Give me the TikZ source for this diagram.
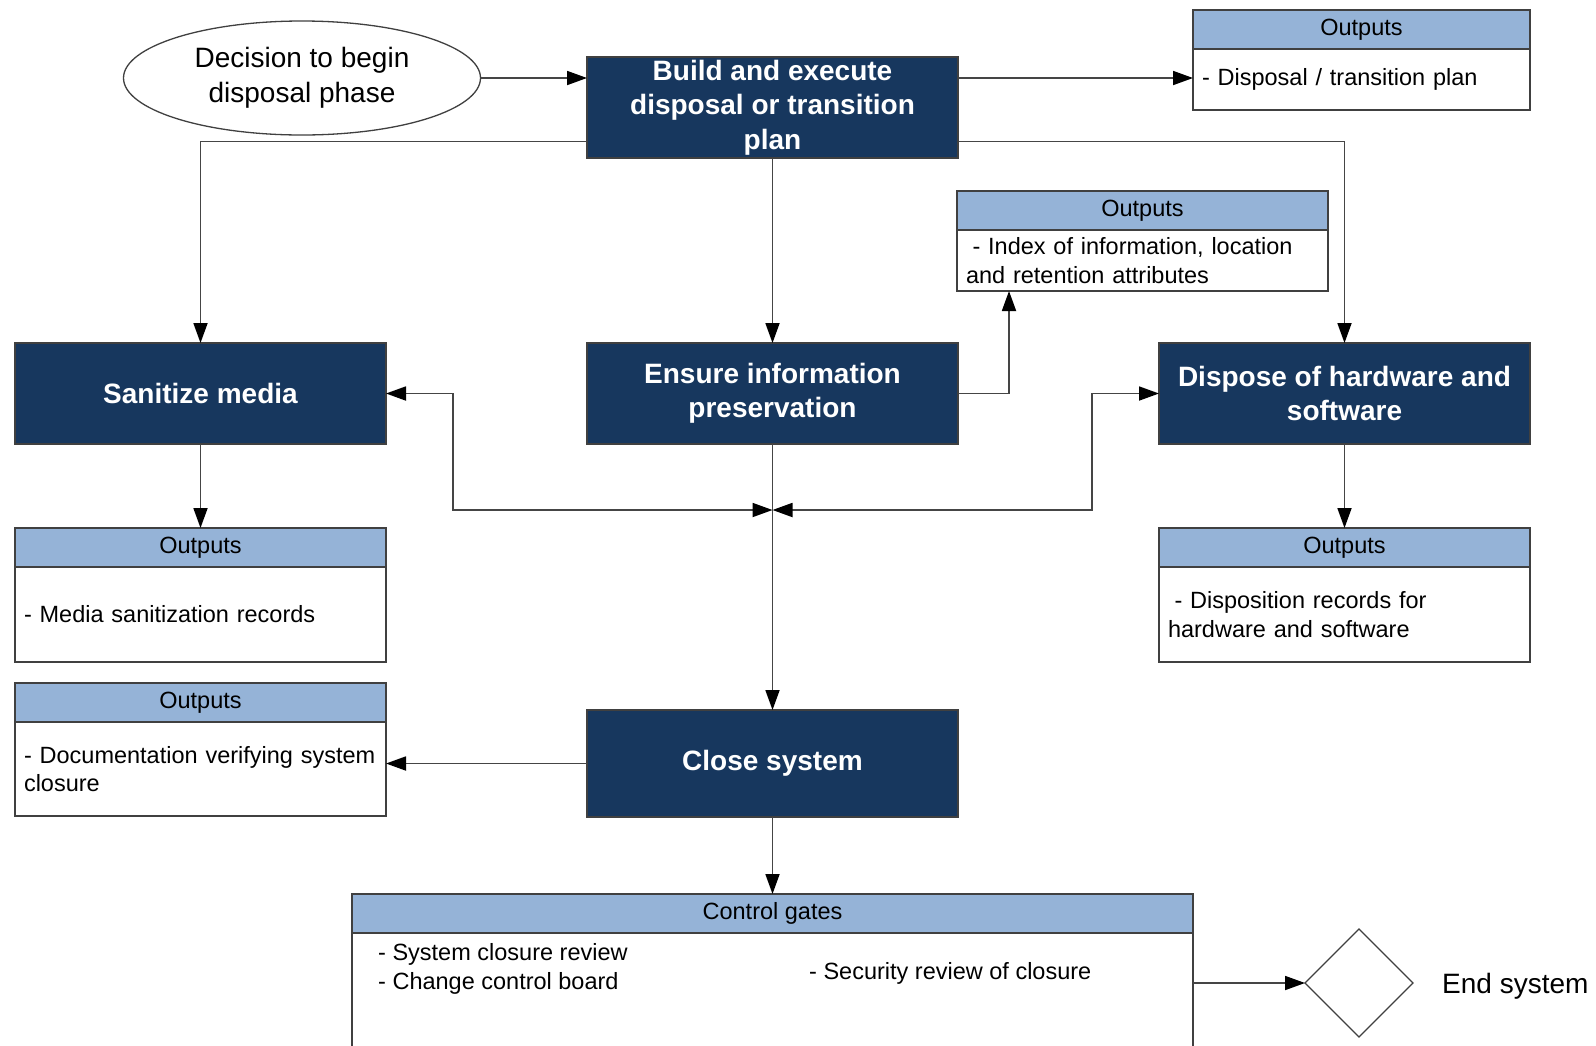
\documentclass[tikz,border=0pt]{standalone}
\usepackage{fontspec}
\setmainfont{Liberation Sans}
\usetikzlibrary{arrows.meta,shapes.geometric,calc}
\definecolor{navy}{HTML}{17375E}
\definecolor{hdrblue}{HTML}{95B3D7}
\definecolor{edge}{HTML}{404040}
\definecolor{wire}{HTML}{454545}
\begin{document}
\begin{tikzpicture}[x=1pt,y=-1pt,
  proc/.style={rectangle,draw=edge,line width=1.5pt,fill=navy,text=white,
    font=\fontsize{28}{34.5}\selectfont\bfseries,align=center,
    minimum width=371pt,minimum height=101pt,inner sep=0pt,outer sep=0pt},
  ohead/.style={rectangle,draw=edge,line width=1.5pt,fill=hdrblue,
    font=\fontsize{23.5}{28.5}\selectfont,minimum height=39pt,inner sep=0pt,outer sep=0pt,anchor=north west},
  obody/.style={rectangle,draw=edge,line width=1.5pt,fill=white,
    font=\fontsize{23.5}{28.5}\selectfont,align=left,inner xsep=9pt,inner ysep=0pt,outer sep=0pt,anchor=north},
  plain/.style={font=\fontsize{23.5}{28.5}\selectfont,align=left,inner sep=0pt,anchor=west},
  wire/.style={draw=wire,line width=1.8pt},
  arr/.style={wire,-{Triangle[length=20pt,width=14pt,color=black]}},
  biarr/.style={wire,{Triangle[length=20pt,width=14pt,color=black]}-{Triangle[length=20pt,width=14pt,color=black]}}]

\useasboundingbox (0,0) rectangle (1596,1045);
\fill[white] (0,0) rectangle (1596,1045);
\clip (0,0) rectangle (1596,1045);

% start event
\node[ellipse,draw=edge,line width=1.3pt,fill=white,minimum width=357pt,minimum height=114pt,
  align=center,font=\fontsize{28}{34.5}\selectfont,inner sep=0pt] (dec) at (302,78)
  {Decision to begin\\disposal phase};

% process steps
\node[proc] (build) at (772.5,107.5) {Build and execute\\disposal or transition\\plan};
\node[proc] (ensure) at (772.5,393.5) {Ensure information\\preservation};
\node[proc] (sanitize) at (200.5,393.5) {Sanitize media};
\node[proc] (dispose) at (1344.5,393.5) {Dispose of hardware and\\software};
\node[proc,minimum height=107pt] (close) at (772.5,763.5) {Close system};

% output boxes
\node[ohead,minimum width=337pt] (o1h) at (1193,10) {Outputs};
\node[obody,minimum width=337pt,text width=319pt,minimum height=61pt] (o1b) at (o1h.south)
  {- Disposal / transition plan};

\node[ohead,minimum width=371pt] (idxh) at (957,191) {Outputs};
\node[obody,minimum width=371pt,text width=353pt,minimum height=61pt] (idxb) at (idxh.south)
  {\hspace*{6.5pt}- Index of information, location\\and retention attributes};

\node[ohead,minimum width=371pt] (medh) at (15,528) {Outputs};
\node[obody,minimum width=371pt,text width=353pt,minimum height=95pt] (medb) at (medh.south)
  {- Media sanitization records};

\node[ohead,minimum width=371pt] (disph) at (1159,528) {Outputs};
\node[obody,minimum width=371pt,text width=353pt,minimum height=95pt] (dispb) at (disph.south)
  {\hspace*{6.5pt}- Disposition records for\\hardware and software};

\node[ohead,minimum width=371pt] (doch) at (15,683) {Outputs};
\node[obody,minimum width=371pt,text width=353pt,minimum height=94pt] (docb) at (doch.south)
  {- Documentation verifying system\\closure};

% control gates
\node[ohead,minimum width=841pt] (cgh) at (352,894) {Control gates};
\node[obody,minimum width=841pt,text width=823pt,minimum height=140pt] (cgb) at (cgh.south) {};
\node[plain] (cg1) at (378,969) {- System closure review\\- Change control board};
\node[plain] (cg2) at (809,973) {- Security review of closure};

% end
\node[diamond,draw=edge,line width=1.3pt,fill=white,minimum width=108pt,minimum height=108pt,
  inner sep=0pt,outer sep=0pt] (endd) at (1359,983) {};
\node[font=\fontsize{28}{34.5}\selectfont,anchor=west,inner sep=0pt] (endt) at (1442,986) {End system};

% connectors
\coordinate (jn) at (772.5,510);
\draw[arr] (dec.east) -- (dec.east -| build.west);
\draw[arr] (dec.east -| build.east) -- (dec.east -| o1b.west);
\draw[arr] ([yshift=-34pt]build.west) -| (sanitize.north);
\draw[arr] ([yshift=-34pt]build.east) -| (dispose.north);
\draw[arr] (build.south) -- (ensure.north);
\draw[arr] (ensure.east) -| ([xshift=52pt]idxb.south west);
\draw[arr] (sanitize.south) -- (medh.north);
\draw[arr] (dispose.south) -- (disph.north);
\draw[arr] (ensure.south) -- (close.north);
\draw[biarr] (sanitize.east) -- ++(67,0) |- (jn);
\draw[biarr] (dispose.west) -- ++(-67,0) |- (jn);
\draw[arr] (close.west) -- (close.west -| docb.east);
\draw[arr] (close.south) -- (cgh.north);
\draw[arr] (endd.west -| cgb.east) -- (endd.west);
\end{tikzpicture}
\end{document}
